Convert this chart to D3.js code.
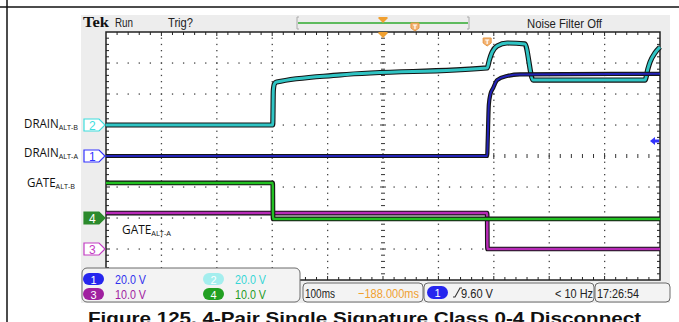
<!DOCTYPE html>
<html>
<head>
<meta charset="UTF-8">
<title>scope capture</title>
<script src="https://cdn.jsdelivr.net/npm/d3@7"></script>
<style>
body { margin:0; background:#fff; }
svg { display:block; }
</style>
</head>
<body>
<svg width="679" height="322"></svg>
<script>
// traces: time in ms (trigger at 0), value in volts
const ch1T = [-688, 0, 1, 3, 6, 11, 18, 36, 59, 312];
const ch1V = [0, 0, 10, 33, 40, 44, 49, 51.6, 52.6, 53];
const ch2T = [-688, -387, -386, -384, -380, -265, 0, 4, 9, 18, 36, 68, 83, 285, 290, 294, 303, 312];
const ch2V = [0, 0, 22, 26.5, 27.7, 32.3, 36.8, 42, 47, 51, 52.9, 52.3, 29, 29, 36, 40.6, 46.5, 50.3];
const ch3T = [-688, 0, 0.5, 312];
const ch3V = [11.6, 11.6, 0, 0];
const ch4T = [-688, -387, -386.5, 312];
const ch4V = [11.3, 11.3, -0.3, -0.3];

const chNames = ["1", "2", "3", "4"];
const voltsPerDiv = [20, 20, 10, 10];
const groundDiv = [0, 1, -3, -2];      // ground marker position, divisions from centre
const scaleLabels = ["20.0 V", "20.0 V", "10.0 V", "10.0 V"];
const sigLabels = [["DRAIN", "ALT-A"], ["DRAIN", "ALT-B"], ["GATE", "ALT-A"], ["GATE", "ALT-B"]];
const timeRange = [-688, 312];         // 100ms/div, delay -188ms
const trigLevel = 9.6;                 // ch1

const traceCol = ["#2323b8", "#2fc4c4", "#b82bb8", "#22c022"];
const markCol = ["#3434ff", "#3fdede", "#c43cc4", "#2c8a2c"];
const badgeCol = ["#2626ee", "#a4eeee", "#a020a0", "#22a022"];
const textCol = ["#3030ee", "#36d6d6", "#a020a0", "#1f9a1f"];

const svg = d3.select("svg");
const narrow = '"Liberation Sans Narrow","Arial Narrow","Liberation Sans",sans-serif';

function txt(x, y, s, size, col, w, fam, weight) {
  const t = svg.append("text").attr("x", x).attr("y", y).text(s)
    .style("font-family", fam || narrow).style("font-size", size + "px")
    .style("fill", col || "#222");
  if (weight) t.style("font-weight", weight);
  if (w) t.attr("textLength", w).attr("lengthAdjust", "spacingAndGlyphs");
  return t;
}

// page lines
svg.append("line").attr("x1", 0).attr("x2", 679).attr("y1", 7).attr("y2", 7).attr("stroke", "#111").attr("stroke-width", 1.5);
svg.append("line").attr("x1", 7).attr("x2", 7).attr("y1", 0).attr("y2", 322).attr("stroke", "#111").attr("stroke-width", 1.5);

// scope panel
svg.append("rect").attr("x", 81).attr("y", 15).attr("width", 589).attr("height", 288).attr("fill", "#ededed");

const x = d3.scaleLinear().domain(timeRange).range([106, 660]);
const divX = d3.scaleLinear().domain([0, 10]).range([106, 660]);
const divY = d3.scaleLinear().domain([-4, 4]).range([280, 32]);
const yCh = voltsPerDiv.map((vd, i) => v => divY(v / vd + groundDiv[i]));

svg.append("rect").attr("x", 106).attr("y", 32).attr("width", 554).attr("height", 248).attr("fill", "#fff");

// graticule
const grid = svg.append("g");
for (let i = 1; i < 10; i++) {
  if (i === 5) continue;
  for (let m = 1; m < 40; m++)
    grid.append("rect").attr("x", divX(i) - 0.6).attr("y", divY(-4 + m / 5) - 0.6).attr("width", 1.3).attr("height", 1.3).attr("fill", "#444");
}
for (let k = -3; k <= 3; k++) {
  if (k === 0) continue;
  for (let m = 1; m < 50; m++)
    grid.append("rect").attr("x", divX(m / 5) - 0.6).attr("y", divY(k) - 0.6).attr("width", 1.3).attr("height", 1.3).attr("fill", "#444");
}
for (let m = 1; m < 40; m++) {
  const L = m % 5 === 0 ? 3 : 2;
  grid.append("line").attr("x1", divX(5) - L).attr("x2", divX(5) + L).attr("y1", divY(-4 + m / 5)).attr("y2", divY(-4 + m / 5)).attr("stroke", "#333");
}
for (let m = 1; m < 50; m++) {
  const L = m % 5 === 0 ? 3 : 2;
  grid.append("line").attr("y1", divY(0) - L).attr("y2", divY(0) + L).attr("x1", divX(m / 5)).attr("x2", divX(m / 5)).attr("stroke", "#333");
}
// border ticks
for (let m = 1; m < 50; m++) {
  const xx = divX(m / 5), L = m % 5 === 0 ? 4 : 3;
  grid.append("line").attr("x1", xx).attr("x2", xx).attr("y1", 32).attr("y2", 32 + L).attr("stroke", "#222");
  grid.append("line").attr("x1", xx).attr("x2", xx).attr("y1", 280).attr("y2", 280 - L).attr("stroke", "#222");
}
for (let m = 1; m < 40; m++) {
  const yy = divY(-4 + m / 5), L = m % 5 === 0 ? 4 : 3;
  grid.append("line").attr("x1", 106).attr("x2", 106 + L).attr("y1", yy).attr("y2", yy).attr("stroke", "#222");
  grid.append("line").attr("x1", 660).attr("x2", 660 - L).attr("y1", yy).attr("y2", yy).attr("stroke", "#222");
}
grid.append("rect").attr("x", 106).attr("y", 32).attr("width", 554).attr("height", 248)
  .attr("fill", "none").attr("stroke", "#222").attr("stroke-width", 1.5);

// traces
const traces = [d3.zip(ch1T, ch1V), d3.zip(ch2T, ch2V), d3.zip(ch3T, ch3V), d3.zip(ch4T, ch4V)];
const widths = [2, 3, 2.5, 2.5];
[2, 3, 1, 0].forEach(i => {
  const line = d3.line().x(d => x(d[0])).y(d => yCh[i](d[1])).curve(d3.curveMonotoneX);
  svg.append("path").attr("d", line(traces[i])).attr("fill", "none")
    .attr("stroke", "#151515").attr("stroke-width", widths[i] + 2.2).attr("stroke-linejoin", "round");
  svg.append("path").attr("d", line(traces[i])).attr("fill", "none")
    .attr("stroke", traceCol[i]).attr("stroke-width", widths[i]).attr("stroke-linejoin", "round");
});

// ground markers on the left edge
chNames.forEach((n, i) => {
  const yy = yCh[i](0);
  const filled = i === 3;
  svg.append("path")
    .attr("d", `M84,${yy - 6}H99L105,${yy}L99,${yy + 6}H84Z`)
    .attr("fill", filled ? markCol[i] : "#fff").attr("stroke", markCol[i]).attr("stroke-width", 1.2);
  txt(89, yy + 4.5, n, 12, filled ? "#fff" : markCol[i], 0, '"Liberation Sans",sans-serif');
});

// signal names, subscript as a tspan
const namePos = [[24, 157, 54], [24, 128, 54], [122, 234, 49], [27, 187, 48]];
sigLabels.forEach((s, i) => {
  const [lx, ly, w] = namePos[i];
  const t = txt(lx, ly, s[0], 12, "#111", w, '"Open Sans",sans-serif');
  t.append("tspan").attr("dy", 2).style("font-size", "7.5px").text(s[1]);
});

// header
txt(83, 27, "Tek", 15, "#111", 26, '"Liberation Serif",serif', "bold");
txt(115, 27, "Run", 13, "#222", 18);
txt(168, 27, "Trig?", 13, "#222", 25);
txt(527, 28, "Noise Filter Off", 13, "#222", 75);
// record view bar: trigger sits at the same fraction of the record as on screen
const recX = d3.scaleLinear().domain(timeRange).range([298, 468]);
svg.append("path").attr("d", "M299,17H297V29H299M467,17H469V29H467").attr("fill", "none").attr("stroke", "#aaa");
svg.append("line").attr("x1", 298).attr("x2", 468).attr("y1", 23).attr("y2", 23).attr("stroke", "#2eaa2e").attr("stroke-width", 1.5);

const orange = "#f0a030";
function trigPos(cx, cy) {
  svg.append("path").attr("d", `M${cx - 4.5},${cy}H${cx + 4.5}V${cy + 1.5}L${cx},${cy + 6}L${cx - 4.5},${cy + 1.5}Z`).attr("fill", orange);
}
function trigMark(cx, cy) {
  svg.append("path").attr("d", `M${cx - 4},${cy}H${cx + 4}V${cy + 5}L${cx},${cy + 8}L${cx - 4},${cy + 5}Z`)
    .attr("fill", "#f3b374").attr("stroke", "#e69640").attr("stroke-width", 1);
  svg.append("path").attr("d", `M${cx - 2},${cy + 2}H${cx + 2}M${cx},${cy + 2}V${cy + 6}`).attr("stroke", "#fff").attr("stroke-width", 1.2);
}
trigPos(recX(-188), 17);
trigPos(x(-188), 32);
trigMark(recX(0), 23);
trigMark(x(0), 38);

// trigger level arrow (ch1)
const ty = yCh[0](trigLevel);
svg.append("path").attr("d", `M650,${ty}L655,${ty - 4}V${ty - 1.5}H659V${ty + 1.5}H655V${ty + 4}Z`).attr("fill", markCol[0]);

// channel legend
svg.append("rect").attr("x", 82).attr("y", 268).attr("width", 218).attr("height", 34).attr("rx", 5)
  .attr("fill", "#f3f3f3").attr("stroke", "#6a6a6a");
chNames.forEach((n, i) => {
  const bx = i % 2 === 0 ? 83 : 203, by = i < 2 ? 273 : 288;
  svg.append("rect").attr("x", bx).attr("y", by).attr("width", 21).attr("height", 12).attr("rx", 6).attr("fill", badgeCol[i]);
  txt(bx + 7.5, by + 10.5, n, 11, "#fff", 0, '"Liberation Sans",sans-serif');
  txt(bx + 32, by + 10.5, scaleLabels[i], 13, textCol[i], 31);
});

// readouts
[[303, 120], [424, 170], [595, 75]].forEach(b => {
  svg.append("rect").attr("x", b[0]).attr("y", 283).attr("width", b[1]).attr("height", 19).attr("rx", 4)
    .attr("fill", "#f3f3f3").attr("stroke", "#6a6a6a");
});
txt(305, 298, "100ms", 13, "#222", 30);
txt(358, 298, "\u2212188.000ms", 13, orange, 61);
svg.append("rect").attr("x", 427).attr("y", 286).attr("width", 21).attr("height", 13).attr("rx", 6.5).attr("fill", badgeCol[0]);
txt(434.5, 297, "1", 11, "#fff", 0, '"Liberation Sans",sans-serif');
svg.append("path").attr("d", "M453,297H455L460,288H462").attr("fill", "none").attr("stroke", "#333").attr("stroke-width", 1.1);
txt(461, 298, trigLevel.toFixed(2) + " V", 13, "#222", 32);
txt(555, 298, "< 10 Hz", 13, "#222", 38);
txt(597, 298, "17:26:54", 13, "#222", 42);

// caption
txt(88, 324, "Figure 125. 4-Pair Single Signature Class 0-4 Disconnect", 17, "#111", 553,
  '"Liberation Sans",Arial,sans-serif', "bold");
</script>
</body>
</html>
